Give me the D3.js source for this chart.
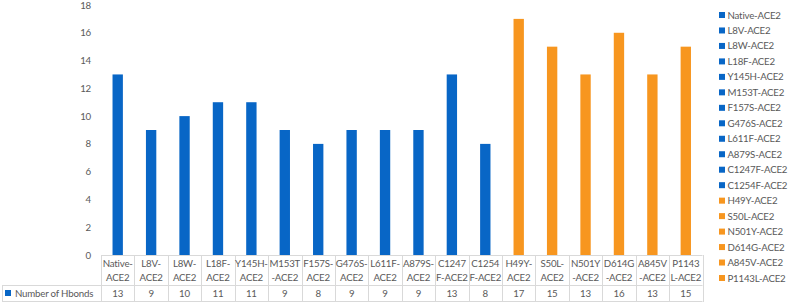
<!DOCTYPE html>
<html>
<head>
<meta charset="utf-8">
<script src="https://cdn.jsdelivr.net/npm/d3@7"></script>
<style>
  body { margin: 0; background: #fff; }
  svg text { font-family: Lato, "Open Sans", sans-serif; fill: #595959; letter-spacing: -0.2px; }
</style>
</head>
<body>
<svg id="chart" width="788" height="303"></svg>
<script>
// data
var categories = ["Native-ACE2", "L8V-ACE2", "L8W-ACE2", "L18F-ACE2", "Y145H-ACE2", "M153T-ACE2",
  "F157S-ACE2", "G476S-ACE2", "L611F-ACE2", "A879S-ACE2", "C1247F-ACE2", "C1254F-ACE2",
  "H49Y-ACE2", "S50L-ACE2", "N501Y-ACE2", "D614G-ACE2", "A845V-ACE2", "P1143L-ACE2"]
var tickLabels = ["Native-\nACE2", "L8V-\nACE2", "L8W-\nACE2", "L18F-\nACE2", "Y145H-\nACE2", "M153T\n-ACE2",
  "F157S-\nACE2", "G476S-\nACE2", "L611F-\nACE2", "A879S-\nACE2", "C1247\nF-ACE2", "C1254\nF-ACE2",
  "H49Y-\nACE2", "S50L-\nACE2", "N501Y\n-ACE2", "D614G\n-ACE2", "A845V\n-ACE2", "P1143\nL-ACE2"]
var hbonds = [13, 9, 10, 11, 11, 9, 8, 9, 9, 9, 13, 8, 17, 15, 13, 16, 13, 15]
var groups = ["wt", "wt", "wt", "wt", "wt", "wt", "wt", "wt", "wt", "wt", "wt", "wt",
  "var", "var", "var", "var", "var", "var"]
var seriesName = "Number of Hbonds"
var yTicks = [0, 2, 4, 6, 8, 10, 12, 14, 16, 18]

var colors = {wt: "#0866c6", "var": "#f7961f"}
var gridColor = "#d9d9d9"
var fs = "9.7px"

var svg = d3.select("#chart")
var plotLeft = 101, plotRight = 702.5, plotTop = 5, plotBottom = 255

var x = d3.scaleBand()
    .domain(categories)
    .range([plotLeft, plotRight])
    .paddingInner(0.69)
    .paddingOuter(0.345)

var cell = d3.scaleBand().domain(categories).range([plotLeft, plotRight])

var y = d3.scaleLinear()
    .domain([0, 18])
    .range([plotBottom, plotTop])

// y axis (labels only)
var yAxis = d3.axisLeft(y).tickValues(yTicks).tickSize(0).tickPadding(0)
var gy = svg.append("g")
    .attr("transform", "translate(91,0)")
    .call(yAxis)
gy.select(".domain").remove()
gy.selectAll("text").style("font-size", fs).attr("fill", "#595959")
    .style("font-family", "Lato, sans-serif")

// bars
svg.selectAll("rect.bar")
    .data(hbonds)
    .enter()
    .append("rect")
    .attr("class", "bar")
    .attr("x", (d, i) => x(categories[i]))
    .attr("width", x.bandwidth())
    .attr("y", d => y(d))
    .attr("height", d => y(0) - y(d))
    .attr("fill", (d, i) => colors[groups[i]])

// data table
var row1 = 285, row2 = 302
var grid = svg.append("g").attr("stroke", gridColor).attr("stroke-width", 1)
grid.append("line").attr("x1", plotLeft).attr("x2", plotRight).attr("y1", plotBottom + 0.5).attr("y2", plotBottom + 0.5)
grid.append("line").attr("x1", 2).attr("x2", plotRight).attr("y1", row1 + 0.5).attr("y2", row1 + 0.5)
grid.append("line").attr("x1", 2).attr("x2", plotRight).attr("y1", row2 - 0.5).attr("y2", row2 - 0.5)
grid.append("line").attr("x1", 2.5).attr("x2", 2.5).attr("y1", row1).attr("y2", row2)
grid.selectAll("line.v")
    .data(categories.concat(["end"]))
    .enter()
    .append("line")
    .attr("x1", (d, i) => Math.round(i < categories.length ? cell(d) : plotRight) + 0.5)
    .attr("x2", (d, i) => Math.round(i < categories.length ? cell(d) : plotRight) + 0.5)
    .attr("y1", plotBottom)
    .attr("y2", row2)

var ticks = svg.selectAll("text.cat")
    .data(tickLabels)
    .enter()
    .append("text")
    .attr("class", "cat")
    .attr("text-anchor", "middle")
    .style("font-size", fs)
    .attr("transform", (d, i) => "translate(" + (cell(categories[i]) + cell.bandwidth() / 2) + ",0)")
ticks.selectAll("tspan")
    .data(d => d.split("\n"))
    .enter()
    .append("tspan")
    .attr("x", 0)
    .attr("y", (d, i) => 266.5 + i * 14)
    .text(d => d)

svg.selectAll("text.val")
    .data(hbonds)
    .enter()
    .append("text")
    .attr("class", "val")
    .attr("text-anchor", "middle")
    .style("font-size", fs)
    .attr("x", (d, i) => cell(categories[i]) + cell.bandwidth() / 2)
    .attr("y", 297)
    .text(d => d)

svg.append("rect").attr("x", 5).attr("y", 290).attr("width", 6).attr("height", 6).attr("fill", colors.wt)
svg.append("text").attr("x", 15).attr("y", 297).style("font-size", fs).text(seriesName)

// legend
var ly = d3.scalePoint().domain(categories).range([15, 278])
var leg = svg.selectAll("g.leg")
    .data(categories)
    .enter()
    .append("g")
    .attr("class", "leg")
    .attr("transform", d => "translate(719," + ly(d) + ")")
leg.append("rect")
    .attr("x", 0).attr("y", -3).attr("width", 6).attr("height", 6)
    .attr("fill", (d, i) => colors[groups[i]])
leg.append("text")
    .attr("x", 8.5).attr("y", 3.5)
    .style("font-size", fs)
    .text(d => d)
</script>
</body>
</html>
